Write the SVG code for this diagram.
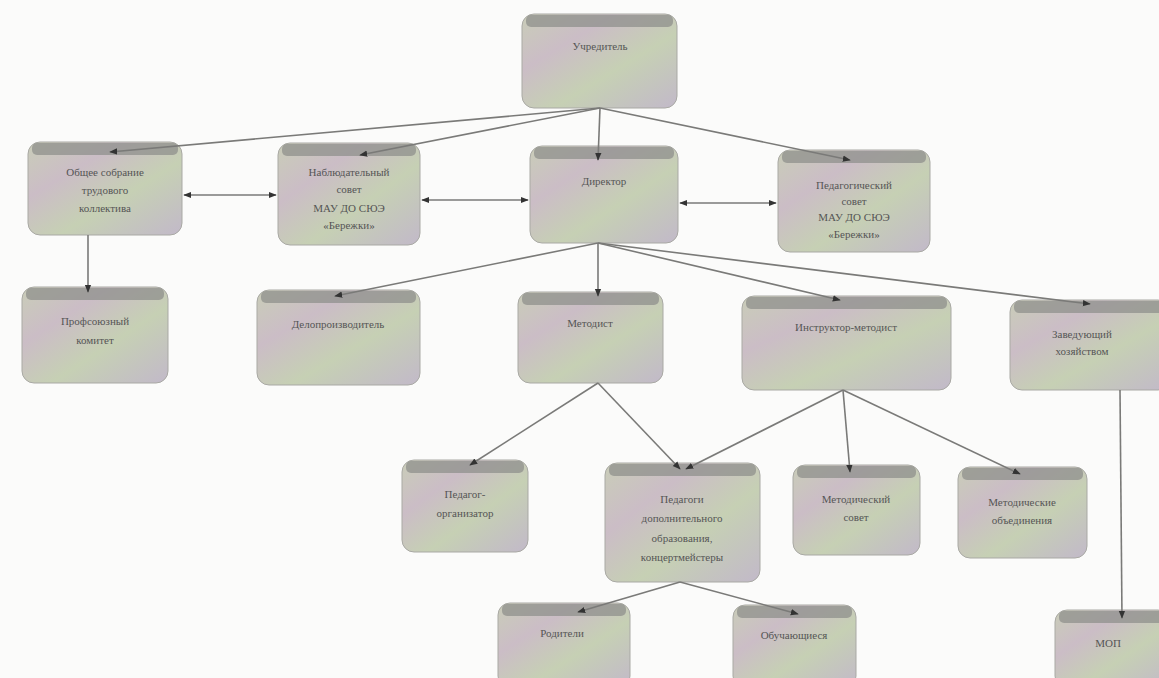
<svg xmlns="http://www.w3.org/2000/svg" width="1159" height="678" viewBox="0 0 1159 678">
<defs>
<linearGradient id="g" x1="0" y1="0" x2="1" y2="1">
<stop offset="0" stop-color="#c9cdb8"/>
<stop offset="0.3" stop-color="#cbbdc6"/>
<stop offset="0.6" stop-color="#c6d0b4"/>
<stop offset="1" stop-color="#c2b9c9"/>
</linearGradient>
<marker id="a" viewBox="0 0 10 10" refX="9" refY="5" markerWidth="5" markerHeight="5" orient="auto-start-reverse">
<path d="M0,1 L10,5 L0,9 z" fill="#333"/>
</marker>
<style>
.n rect.b{fill:url(#g);stroke:#a9a9a4;stroke-width:1}
.n rect.t{fill:#8f908c;opacity:0.75}
.n text{font-family:"Liberation Serif",serif;font-size:11px;fill:#555;text-anchor:middle}
.c line{stroke:#7a7a78;stroke-width:1.6;marker-end:url(#a)}
.c line.bi{marker-start:url(#a)}
</style>
</defs>
<rect width="1159" height="678" fill="#fbfbfa"/>
<g class="n" id="n-uchreditel"><rect class="b" x="522" y="14" width="155" height="94" rx="12"/><rect class="t" x="526" y="15" width="147" height="12" rx="5"/><text x="600" y="50">Учредитель</text></g>
<g class="n" id="n-obshee"><rect class="b" x="28" y="142" width="154" height="93" rx="12"/><rect class="t" x="32" y="143" width="146" height="12" rx="5"/><text x="105" y="176">Общее собрание</text><text x="105" y="194">трудового</text><text x="105" y="212">коллектива</text></g>
<g class="n" id="n-nabl"><rect class="b" x="278" y="143" width="142" height="102" rx="12"/><rect class="t" x="282" y="144" width="134" height="12" rx="5"/><text x="349" y="176">Наблюдательный</text><text x="349" y="193">совет</text><text x="349" y="212">МАУ ДО СЮЭ</text><text x="349" y="229">«Бережки»</text></g>
<g class="n" id="n-direktor"><rect class="b" x="530" y="146" width="148" height="97" rx="12"/><rect class="t" x="534" y="147" width="140" height="12" rx="5"/><text x="604" y="185">Директор</text></g>
<g class="n" id="n-pedsovet"><rect class="b" x="778" y="150" width="152" height="102" rx="12"/><rect class="t" x="782" y="151" width="144" height="12" rx="5"/><text x="854" y="189">Педагогический</text><text x="854" y="205">совет</text><text x="854" y="221">МАУ ДО СЮЭ</text><text x="854" y="238">«Бережки»</text></g>
<g class="n" id="n-profkom"><rect class="b" x="22" y="287" width="146" height="96" rx="12"/><rect class="t" x="26" y="288" width="138" height="12" rx="5"/><text x="95" y="325">Профсоюзный</text><text x="95" y="344">комитет</text></g>
<g class="n" id="n-delo"><rect class="b" x="257" y="290" width="163" height="95" rx="12"/><rect class="t" x="261" y="291" width="155" height="12" rx="5"/><text x="338" y="328">Делопроизводитель</text></g>
<g class="n" id="n-metodist"><rect class="b" x="518" y="292" width="145" height="91" rx="12"/><rect class="t" x="522" y="293" width="137" height="12" rx="5"/><text x="590" y="327">Методист</text></g>
<g class="n" id="n-instr"><rect class="b" x="742" y="296" width="209" height="94" rx="12"/><rect class="t" x="746" y="297" width="201" height="12" rx="5"/><text x="846" y="331">Инструктор-методист</text></g>
<g class="n" id="n-zav"><rect class="b" x="1010" y="300" width="160" height="90" rx="12"/><rect class="t" x="1014" y="301" width="152" height="12" rx="5"/><text x="1082" y="338">Заведующий</text><text x="1082" y="355">хозяйством</text></g>
<g class="n" id="n-pedorg"><rect class="b" x="402" y="460" width="126" height="92" rx="12"/><rect class="t" x="406" y="461" width="118" height="12" rx="5"/><text x="465" y="498">Педагог-</text><text x="465" y="517">организатор</text></g>
<g class="n" id="n-peddop"><rect class="b" x="605" y="463" width="155" height="119" rx="12"/><rect class="t" x="609" y="464" width="147" height="12" rx="5"/><text x="682" y="503">Педагоги</text><text x="682" y="522">дополнительного</text><text x="682" y="542">образования,</text><text x="682" y="561">концертмейстеры</text></g>
<g class="n" id="n-metsovet"><rect class="b" x="793" y="465" width="127" height="90" rx="12"/><rect class="t" x="797" y="466" width="119" height="12" rx="5"/><text x="856" y="503">Методический</text><text x="856" y="521">совет</text></g>
<g class="n" id="n-metob"><rect class="b" x="958" y="467" width="129" height="91" rx="12"/><rect class="t" x="962" y="468" width="121" height="12" rx="5"/><text x="1022" y="506">Методические</text><text x="1022" y="524">объединения</text></g>
<g class="n" id="n-roditeli"><rect class="b" x="498" y="603" width="132" height="85" rx="12"/><rect class="t" x="502" y="604" width="124" height="12" rx="5"/><text x="562" y="637">Родители</text></g>
<g class="n" id="n-obuch"><rect class="b" x="733" y="605" width="123" height="83" rx="12"/><rect class="t" x="737" y="606" width="115" height="12" rx="5"/><text x="794" y="639">Обучающиеся</text></g>
<g class="n" id="n-mop"><rect class="b" x="1055" y="610" width="115" height="78" rx="12"/><rect class="t" x="1059" y="611" width="107" height="12" rx="5"/><text x="1108" y="647">МОП</text></g>
<g class="c" id="connectors">
<line x1="600" y1="108" x2="110" y2="152"/>
<line x1="600" y1="108" x2="360" y2="155"/>
<line x1="600" y1="108" x2="598" y2="160"/>
<line x1="600" y1="108" x2="850" y2="160"/>
<line class="bi" x1="184" y1="195" x2="276" y2="195"/>
<line class="bi" x1="422" y1="200" x2="528" y2="200"/>
<line class="bi" x1="680" y1="203" x2="776" y2="203"/>
<line x1="88" y1="235" x2="88" y2="292"/>
<line x1="598" y1="243" x2="335" y2="296"/>
<line x1="598" y1="243" x2="598" y2="296"/>
<line x1="598" y1="243" x2="840" y2="300"/>
<line x1="598" y1="243" x2="1090" y2="304"/>
<line x1="598" y1="383" x2="470" y2="465"/>
<line x1="598" y1="383" x2="680" y2="469"/>
<line x1="843" y1="390" x2="686" y2="469"/>
<line x1="843" y1="390" x2="850" y2="472"/>
<line x1="843" y1="390" x2="1020" y2="474"/>
<line x1="680" y1="582" x2="578" y2="612"/>
<line x1="680" y1="582" x2="798" y2="614"/>
<line x1="1120" y1="390" x2="1122" y2="618"/>
</g>
</svg>
